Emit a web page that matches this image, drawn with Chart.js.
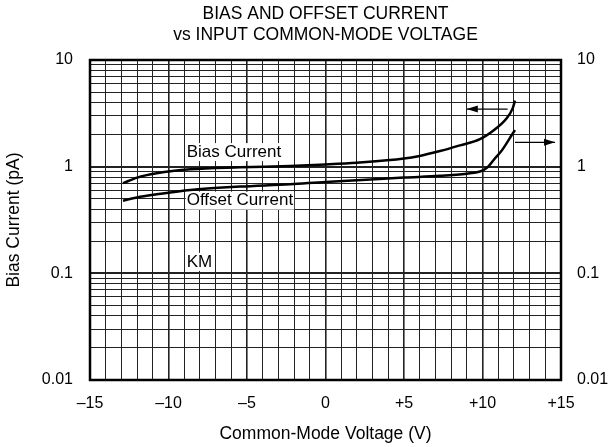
<!DOCTYPE html>
<html>
<head>
<meta charset="utf-8">
<script src="https://cdn.jsdelivr.net/npm/chart.js@4/dist/chart.umd.min.js"></script>
<style>
  html, body { margin: 0; padding: 0; background: #fff; }
  #wrap { width: 612px; height: 447px; }
</style>
</head>
<body>
<div id="wrap"><canvas id="biasChart" width="612" height="447"></canvas></div>
<script>
// curve data (V, pA)
const biasVoltage = [-12.9, -12, -10.75, -8.6, -5.45, -2.26, 0, 2, 5, 6, 7.29, 8.57, 9.84, 10.8, 11.54, 11.92, 12.07];
const biasCurrent = [0.70, 0.79, 0.867, 0.944, 0.986, 1.016, 1.05, 1.09, 1.19, 1.26, 1.40, 1.585, 1.81, 2.24, 2.84, 3.52, 4.16];

const offsetVoltage = [-12.9, -12, -10.75, -8.6, -5.45, -2.26, 0, 2, 5, 7.29, 9, 9.84, 10.3, 10.8, 11.2, 11.54, 11.86, 12.07];
const offsetCurrent = [0.48, 0.515, 0.55, 0.605, 0.65, 0.684, 0.72, 0.745, 0.79, 0.82, 0.86, 0.90, 0.98, 1.20, 1.40, 1.66, 1.98, 2.2];

// arrows pointing to the axis each curve belongs to (last point is the tip)
const leftArrowVoltage = [11.6, 9.0];
const leftArrowCurrent = [3.47, 3.47];
const rightArrowVoltage = [12.07, 14.62];
const rightArrowCurrent = [1.69, 1.69];

// in-plot labels
const noteText = ['Bias Current', 'Offset Current', 'KM'];
const noteVoltage = [-8.84, -8.84, -8.84];
const noteCurrent = [1.37, 0.48, 0.128];

const decadeTicks = [0.01, 0.1, 1, 10];
const xLabelTicks = [-15, -10, -5, 0, 5, 10, 15];

const FONT = '"Liberation Sans", Arial, sans-serif';

const toPoints = (xs, ys) => xs.map((x, i) => ({ x: x, y: ys[i] }));

const isDecade = v => Math.abs(Math.log10(v) - Math.round(Math.log10(v))) < 1e-6;

const minorTicks = [];
[0.01, 0.1, 1].forEach(d => {
    for (let m = 1; m <= 9; m++) minorTicks.push(+(d * m).toPrecision(3));
});
minorTicks.push(10);

const notesPlugin = {
    id: 'notes',
    beforeDatasetsDraw(chart) {
        const { ctx, scales } = chart;
        ctx.save();
        ctx.font = '17px ' + FONT;
        ctx.textBaseline = 'middle';
        noteText.forEach((t, i) => {
            const x = scales.x.getPixelForValue(noteVoltage[i]);
            const y = scales.y.getPixelForValue(noteCurrent[i]);
            const w = ctx.measureText(t).width;
            ctx.fillStyle = '#fff';
            ctx.fillRect(x - 1, y - 9, w + 2, 18);
            ctx.fillStyle = '#000';
            ctx.fillText(t, x, y);
        });
        ctx.restore();
    },
    afterDatasetsDraw(chart) {
        const { ctx, chartArea, scales } = chart;
        ctx.save();
        // arrow heads
        const heads = [
            [leftArrowVoltage, leftArrowCurrent],
            [rightArrowVoltage, rightArrowCurrent]
        ];
        ctx.fillStyle = '#000';
        heads.forEach(([xs, ys]) => {
            const n = xs.length - 1;
            const tx = scales.x.getPixelForValue(xs[n]);
            const ty = scales.y.getPixelForValue(ys[n]);
            const dir = xs[n] > xs[n - 1] ? -1 : 1;
            ctx.beginPath();
            ctx.moveTo(tx, ty);
            ctx.lineTo(tx + dir * 11, ty - 3.5);
            ctx.lineTo(tx + dir * 11, ty + 3.5);
            ctx.closePath();
            ctx.fill();
        });
        // plot frame
        ctx.strokeStyle = '#000';
        ctx.lineWidth = 2.5;
        ctx.strokeRect(chartArea.left, chartArea.top, chartArea.right - chartArea.left, chartArea.bottom - chartArea.top);
        ctx.restore();
    }
};

const ctx = document.getElementById('biasChart').getContext('2d');

new Chart(ctx, {
    type: 'line',
    data: {
        datasets: [
            {
                label: 'Bias Current',
                data: toPoints(biasVoltage, biasCurrent),
                borderColor: '#000',
                borderWidth: 2.5,
                pointRadius: 0,
                cubicInterpolationMode: 'monotone',
                fill: false
            },
            {
                label: 'Offset Current',
                data: toPoints(offsetVoltage, offsetCurrent),
                borderColor: '#000',
                borderWidth: 2.5,
                pointRadius: 0,
                cubicInterpolationMode: 'monotone',
                fill: false
            },
            {
                label: 'arrow left',
                data: toPoints(leftArrowVoltage, leftArrowCurrent),
                borderColor: '#000',
                borderWidth: 1.2,
                pointRadius: 0,
                fill: false
            },
            {
                label: 'arrow right',
                data: toPoints(rightArrowVoltage, rightArrowCurrent),
                borderColor: '#000',
                borderWidth: 1.2,
                pointRadius: 0,
                fill: false
            }
        ]
    },
    options: {
        responsive: false,
        animation: false,
        clip: false,
        layout: { padding: 0 },
        plugins: {
            legend: { display: false },
            tooltip: { enabled: false },
            title: {
                display: true,
                fullSize: false,
                text: ['BIAS AND OFFSET CURRENT', 'vs INPUT COMMON-MODE VOLTAGE'],
                color: '#000',
                font: { family: FONT, size: 17.5, weight: 'normal', lineHeight: 1.2 },
                padding: { top: 4, bottom: 14 }
            }
        },
        scales: {
            x: {
                type: 'linear',
                min: -15,
                max: 15,
                afterBuildTicks: axis => {
                    axis.ticks = [];
                    for (let v = -15; v <= 15; v++) axis.ticks.push({ value: v });
                },
                afterFit: axis => { axis.height = 67; },
                ticks: {
                    autoSkip: false,
                    maxRotation: 0,
                    padding: 14,
                    color: '#000',
                    font: { family: FONT, size: 16 },
                    callback: v => {
                        if (!xLabelTicks.includes(v)) return '';
                        if (v < 0) return '\u2013' + Math.abs(v);
                        if (v > 0) return '+' + v;
                        return '0';
                    }
                },
                grid: {
                    drawTicks: false,
                    color: '#222',
                    lineWidth: c => (c.tick && c.tick.value % 5 === 0 ? 1.6 : 1)
                },
                border: { display: false },
                title: {
                    display: true,
                    text: 'Common-Mode Voltage (V)',
                    color: '#000',
                    font: { family: FONT, size: 17.5 },
                    padding: { top: 0, bottom: 2 }
                }
            },
            y: {
                type: 'logarithmic',
                position: 'left',
                min: 0.01,
                max: 10,
                afterBuildTicks: axis => {
                    axis.ticks = minorTicks.map(v => ({ value: v, major: isDecade(v) }));
                },
                afterFit: axis => { axis.width = 90; },
                ticks: {
                    autoSkip: false,
                    padding: 17,
                    color: '#000',
                    font: { family: FONT, size: 16 },
                    callback: v => (isDecade(v) ? String(+v.toPrecision(3)) : '')
                },
                grid: {
                    drawTicks: false,
                    color: '#222',
                    lineWidth: c => (c.tick && isDecade(c.tick.value) ? 2 : 1)
                },
                border: { display: false },
                title: {
                    display: true,
                    text: 'Bias Current (pA)',
                    color: '#000',
                    font: { family: FONT, size: 17.5 },
                    padding: { top: 4, bottom: 0 }
                }
            },
            y2: {
                type: 'logarithmic',
                position: 'right',
                min: 0.01,
                max: 10,
                afterBuildTicks: axis => {
                    axis.ticks = decadeTicks.map(v => ({ value: v }));
                },
                afterFit: axis => { axis.width = 51; },
                ticks: {
                    autoSkip: false,
                    padding: 16,
                    color: '#000',
                    font: { family: FONT, size: 16 },
                    callback: v => String(+v.toPrecision(3))
                },
                grid: { display: false, drawTicks: false },
                border: { display: false }
            }
        }
    },
    plugins: [notesPlugin]
});
</script>
</body>
</html>
